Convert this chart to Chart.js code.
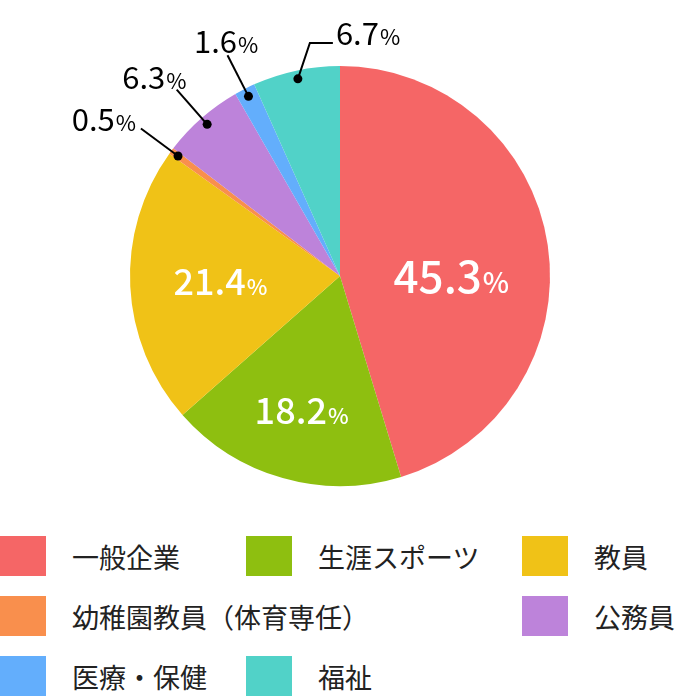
<!DOCTYPE html>
<html>
<head>
<meta charset="utf-8">
<title>進路 円グラフ</title>
<script src="https://cdn.jsdelivr.net/npm/chart.js"></script>
<style>
    body { margin: 0; background: #fff; font-family: "Noto Sans CJK JP", sans-serif; }
    #wrap { position: relative; width: 680px; height: 520px; }
    #legend { display: grid; grid-template-columns: 246px 276px auto; row-gap: 20px; margin-top: 16px; }
    .item { display: flex; align-items: center; height: 40px; font-size: 27px; color: #222; white-space: nowrap; }
    .item .box { width: 46px; height: 40px; margin-right: 26px; flex: none; }
    .item.wide { grid-column: span 2; }
</style>
</head>
<body>
<div id="wrap"><canvas id="myChart"></canvas></div>
<div id="legend"></div>
<script>
    const labels = ['一般企業', '生涯スポーツ', '教員', '幼稚園教員（体育専任）', '公務員', '医療・保健', '福祉'];
    const values = [45.3, 18.2, 21.4, 0.5, 6.3, 1.6, 6.7];
    const colors = ['#f56666', '#8ebf10', '#f0c217', '#f98f4d', '#bd83da', '#63aefc', '#51d2c8'];
    // how each percentage is labelled
    const labelStyle = ['inside', 'inside', 'inside', 'radial', 'radial', 'radial', 'elbow'];
    // inside labels: distance from centre (fraction of radius) and turn in degrees
    const insidePos = [[0.53, 9], [0.67, 0], [0.57, 0]];

    const FONT = '"Noto Sans CJK JP", sans-serif';

    function pctWidth(ctx, num, f1, f2, wt) {
        ctx.font = wt + ' ' + f1 + 'px ' + FONT;
        const w1 = ctx.measureText(num).width;
        ctx.font = wt + ' ' + f2 + 'px ' + FONT;
        const w2 = ctx.measureText('%').width;
        return [w1, w2];
    }

    // draws "12.3%" with the % sign smaller; y is the vertical middle of the digits
    function drawPct(ctx, num, x, y, f1, f2, wt, color, align) {
        const [w1, w2] = pctWidth(ctx, num, f1, f2, wt);
        const total = w1 + w2 + 1;
        let sx = x - total / 2;
        if (align === 'left') sx = x;
        if (align === 'right') sx = x - total;
        const base = y + f1 * 0.365;
        ctx.fillStyle = color;
        ctx.textAlign = 'left';
        ctx.textBaseline = 'alphabetic';
        ctx.font = wt + ' ' + f1 + 'px ' + FONT;
        ctx.fillText(num, sx, base);
        ctx.font = wt + ' ' + f2 + 'px ' + FONT;
        ctx.fillText('%', sx + w1 + 1, base);
        return total;
    }

    const pctLabels = {
        id: 'pctLabels',
        afterDatasetsDraw(chart) {
            const ctx = chart.ctx;
            const arcs = chart.getDatasetMeta(0).data;
            ctx.save();
            arcs.forEach((arc, i) => {
                const p = arc.getProps(['x', 'y', 'startAngle', 'endAngle', 'outerRadius'], true);
                const mid = (p.startAngle + p.endAngle) / 2;
                const cos = Math.cos(mid), sin = Math.sin(mid);
                const r = p.outerRadius;
                const num = values[i].toFixed(1);
                const mode = labelStyle[i];
                if (mode === 'inside') {
                    const big = values[i] > 40;
                    const [k, turn] = insidePos[i] || [0.6, 0];
                    const a = mid + turn * Math.PI / 180;
                    drawPct(ctx, num, p.x + Math.cos(a) * r * k, p.y + Math.sin(a) * r * k,
                        big ? 44 : 36, big ? 28 : 22, '500', '#fff', 'center');
                    return;
                }
                const f1 = 31, f2 = 22;
                const dot = { x: p.x + cos * r * 0.96, y: p.y + sin * r * 0.96 };
                ctx.strokeStyle = '#000';
                ctx.lineWidth = 2;
                ctx.beginPath();
                ctx.moveTo(dot.x, dot.y);
                if (mode === 'radial') {
                    const end = { x: p.x + cos * r * 1.18, y: p.y + sin * r * 1.18 };
                    ctx.lineTo(end.x, end.y);
                    ctx.stroke();
                    const [w1, w2] = pctWidth(ctx, num, f1, f2, '400');
                    const w = w1 + w2, h = f1 * 0.73;
                    // steeper leaders put the label more above the line end
                    const sx = Math.max(0, (Math.abs(cos) - 0.44) / 0.35);
                    const cx = end.x + Math.sign(cos) * sx * (w / 2 + 4);
                    const cy = end.y + sin * (h / 2 + 4);
                    drawPct(ctx, num, cx, cy, f1, f2, '400', '#000', 'center');
                } else {
                    const elbow = { x: dot.x + 12, y: p.y - r * 1.11 };
                    const hend = { x: elbow.x + 23, y: elbow.y };
                    ctx.lineTo(elbow.x, elbow.y);
                    ctx.lineTo(hend.x, hend.y);
                    ctx.stroke();
                    drawPct(ctx, num, hend.x + 3, hend.y - f1 * 0.3, f1, f2, '400', '#000', 'left');
                }
                ctx.fillStyle = '#000';
                ctx.beginPath();
                ctx.arc(dot.x, dot.y, 4.5, 0, Math.PI * 2);
                ctx.fill();
            });
            ctx.restore();
        }
    };

    window.onload = function() {
        const ctx = document.getElementById('myChart').getContext('2d');
        new Chart(ctx, {
            type: 'pie',
            data: {
                labels: labels,
                datasets: [{
                    data: values,
                    backgroundColor: colors,
                    borderWidth: 0
                }]
            },
            options: {
                responsive: true,
                maintainAspectRatio: false,
                animation: false,
                layout: { padding: { top: 66, bottom: 34 } },
                plugins: {
                    legend: { display: false },
                    tooltip: { enabled: false }
                }
            },
            plugins: [pctLabels]
        });

        // legend below the chart, three columns
        const legend = document.getElementById('legend');
        labels.forEach((name, i) => {
            const item = document.createElement('div');
            item.className = 'item' + (i === 3 ? ' wide' : '');
            item.innerHTML = '<span class="box" style="background:' + colors[i] + '"></span>' + name;
            legend.appendChild(item);
        });
    }
</script>
</body>
</html>
